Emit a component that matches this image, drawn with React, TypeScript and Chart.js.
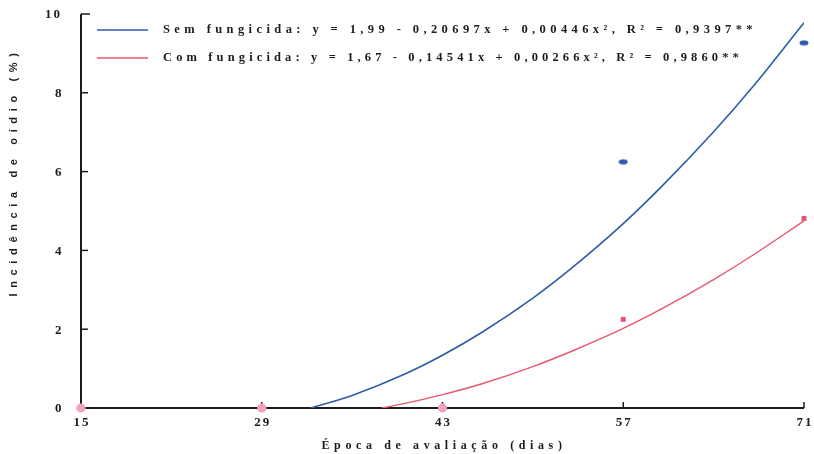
import React, { useEffect, useRef } from "react";
import { Chart, registerables } from "chart.js";

Chart.register(...registerables);

// ---- data ----
const dias = [15, 29, 43, 57, 71];
const semObs = [0, 0, 0, 6.25, 9.27];
const comObs = [0, 0, 0, 2.25, 4.81];

const semFitX = [32.8, 36, 40, 43, 46, 50, 53, 57, 60, 64, 67, 71];
const semFitY = [0, 0.32, 0.85, 1.34, 1.91, 2.79, 3.55, 4.68, 5.63, 7.01, 8.14, 9.78];
const comFitX = [38.3, 40, 43, 46, 50, 53, 57, 60, 64, 67, 71];
const comFitY = [0, 0.11, 0.34, 0.61, 1.05, 1.44, 2.02, 2.52, 3.26, 3.87, 4.75];

const xTicks = [15, 29, 43, 57, 71];
const yTicks = [0, 2, 4, 6, 8, 10];

const legendLabels = [
  "Sem fungicida: y = 1,99 - 0,20697x + 0,00446x², R² = 0,9397**",
  "Com fungicida: y = 1,67 - 0,14541x + 0,00266x², R² = 0,9860**",
];
const xTitle = "Época de avaliação (dias)";
const yTitle = "Incidência de oídio (%)";

const BLUE = "#2d5ca6";
const RED = "#e8576f";
const PINK = "#f3a3b6";
const INK = "#1c1c1c";

function makeEllipse(color: string) {
  const c = document.createElement("canvas");
  c.width = 10;
  c.height = 6;
  const g = c.getContext("2d")!;
  g.fillStyle = color;
  g.beginPath();
  g.ellipse(5, 3, 4.5, 2.6, 0, 0, Math.PI * 2);
  g.fill();
  return c;
}

function spaced(
  ctx: CanvasRenderingContext2D,
  text: string,
  x: number,
  y: number,
  width: number,
  align: "left" | "center" | "right"
) {
  (ctx as any).letterSpacing = "0px";
  const w = ctx.measureText(text).width;
  const n = Array.from(text).length;
  const sp = n > 1 ? (width - w) / n : 0;
  (ctx as any).letterSpacing = sp + "px";
  ctx.textAlign = "left";
  let sx = x;
  if (align === "center") sx = x - width / 2;
  else if (align === "right") sx = x - width;
  ctx.fillText(text, sx, y);
  (ctx as any).letterSpacing = "0px";
}

const decorPlugin = {
  id: "decor",
  beforeDatasetsDraw(chart: any) {
    const { ctx, chartArea, scales } = chart;
    const xs = scales.x;
    const ys = scales.y;
    ctx.save();
    ctx.strokeStyle = INK;
    ctx.lineWidth = 2;
    ctx.beginPath();
    ctx.moveTo(chartArea.left, chartArea.top);
    ctx.lineTo(chartArea.left, chartArea.bottom);
    ctx.lineTo(chartArea.right, chartArea.bottom);
    ctx.stroke();
    ctx.lineWidth = 1.5;
    yTicks.forEach((v) => {
      if (v === 0) return;
      const py = ys.getPixelForValue(v);
      ctx.beginPath();
      ctx.moveTo(chartArea.left, py);
      ctx.lineTo(chartArea.left + (v === 10 ? 9 : 7), py);
      ctx.stroke();
    });
    xTicks.forEach((v) => {
      const px = xs.getPixelForValue(v);
      ctx.beginPath();
      ctx.moveTo(px, chartArea.bottom);
      ctx.lineTo(px, chartArea.bottom - 6);
      ctx.stroke();
    });
    ctx.restore();
  },
  afterDraw(chart: any) {
    const { ctx, chartArea, scales } = chart;
    const xs = scales.x;
    const ys = scales.y;
    ctx.save();
    ctx.fillStyle = INK;
    ctx.textBaseline = "middle";
    // y tick labels
    ctx.font = "bold 13px 'Liberation Serif'";
    yTicks.forEach((v) => {
      const py = ys.getPixelForValue(v);
      const t = String(v);
      spaced(ctx, t, 62, py + 1, t.length > 1 ? 17 : 7, "right");
    });
    // x tick labels
    xTicks.forEach((v) => {
      const px = xs.getPixelForValue(v);
      spaced(ctx, String(v), px + 1, chartArea.bottom + 15, 17, "center");
    });
    // x title
    ctx.font = "bold 12px 'Liberation Serif'";
    spaced(ctx, xTitle, 444, 446, 245, "center");
    // y title
    ctx.save();
    ctx.translate(14, 172);
    ctx.rotate(-Math.PI / 2);
    ctx.font = "bold 11px 'Liberation Sans'";
    spaced(ctx, yTitle, 0, 0, 249, "center");
    ctx.restore();
    // legend
    const rows = [
      { y: 30, color: BLUE, w: 594 },
      { y: 58, color: RED, w: 580 },
    ];
    rows.forEach((r, i) => {
      ctx.strokeStyle = r.color;
      ctx.lineWidth = 1.5;
      ctx.beginPath();
      ctx.moveTo(97, r.y);
      ctx.lineTo(148, r.y);
      ctx.stroke();
      ctx.fillStyle = INK;
      ctx.font = "bold 12.5px 'Liberation Serif'";
      spaced(ctx, legendLabels[i], 163, r.y, r.w, "left");
    });
    ctx.restore();
  },
};

export default function App() {
  const ref = useRef<HTMLCanvasElement | null>(null);
  useEffect(() => {
    if (!ref.current) return;
    const blueEllipse = makeEllipse(BLUE);
    const chart = new Chart(ref.current, {
      type: "scatter",
      data: {
        datasets: [
          {
            label: "Com fungicida (obs)",
            data: dias.map((d, i) => ({ x: d, y: comObs[i] })),
            backgroundColor: dias.map((_, i) => (comObs[i] === 0 ? PINK : RED)),
            borderColor: dias.map((_, i) => (comObs[i] === 0 ? PINK : RED)),
            pointStyle: dias.map((_, i) => (comObs[i] === 0 ? "circle" : "rect")),
            pointRadius: dias.map((_, i) => (comObs[i] === 0 ? 4.5 : 3.5)),
            borderWidth: 0,
            showLine: false,
            clip: false,
            order: 0,
          } as any,
          {
            label: "Sem fungicida (obs)",
            data: dias.map((d, i) => ({ x: d, y: semObs[i] })),
            pointStyle: blueEllipse,
            pointRadius: 4,
            showLine: false,
            clip: false,
            order: 1,
          } as any,
          {
            label: "Com fungicida",
            data: comFitX.map((x, i) => ({ x, y: comFitY[i] })),
            showLine: true,
            borderColor: RED,
            borderWidth: 1.4,
            pointRadius: 0,
            cubicInterpolationMode: "monotone",
            order: 2,
          } as any,
          {
            label: "Sem fungicida",
            data: semFitX.map((x, i) => ({ x, y: semFitY[i] })),
            showLine: true,
            borderColor: BLUE,
            borderWidth: 1.6,
            pointRadius: 0,
            cubicInterpolationMode: "monotone",
            order: 3,
          } as any,
        ],
      },
      options: {
        animation: false,
        responsive: false,
        maintainAspectRatio: false,
        layout: { padding: { left: 81, right: 10, top: 14, bottom: 46 } },
        plugins: { legend: { display: false }, tooltip: { enabled: false } },
        scales: {
          x: { type: "linear", min: 15, max: 71, display: false },
          y: { type: "linear", min: 0, max: 10, display: false },
        },
      },
      plugins: [decorPlugin],
    });
    return () => chart.destroy();
  }, []);
  return (
    <div style={{ position: "absolute", left: 0, top: 0, width: 814, height: 454, background: "#fff" }}>
      <canvas ref={ref} width={814} height={454} style={{ width: 814, height: 454, display: "block" }} />
    </div>
  );
}
